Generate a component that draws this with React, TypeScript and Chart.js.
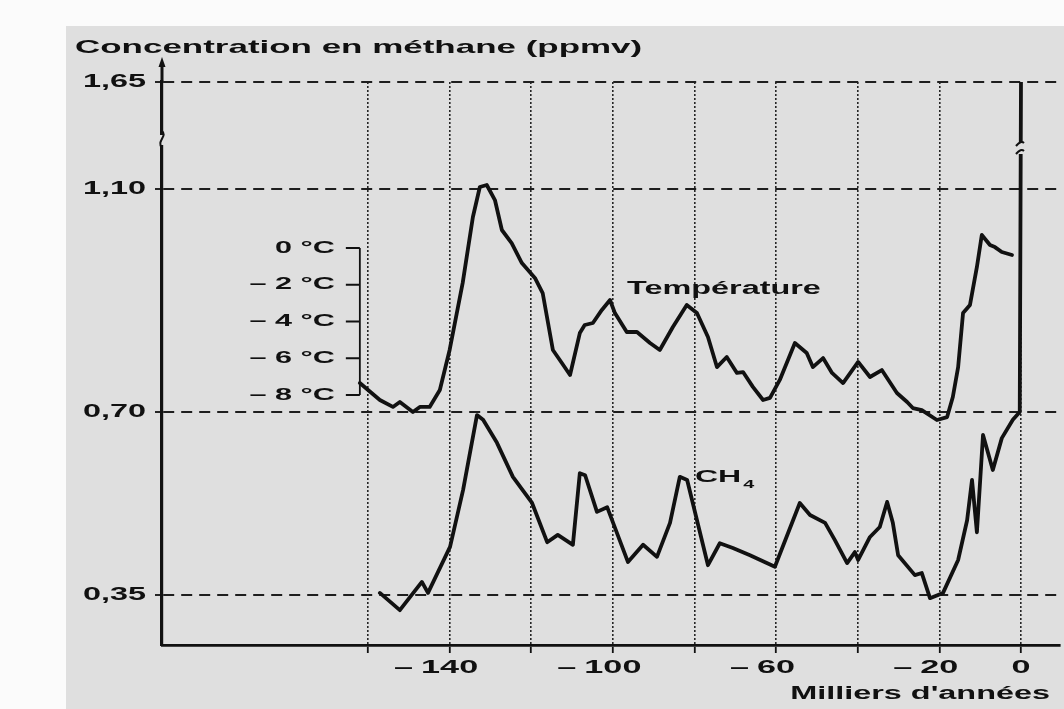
import React, { useEffect, useRef } from 'react';
import { Chart, registerables } from 'chart.js';

Chart.register(...registerables);

// ---------- DATA ----------
// Temperature (°C, relative) vs time (thousands of years)
const YEARS_T = [-162.0, -157.1, -153.9, -152.2, -149.0, -147.3, -144.9, -142.4, -140.0, -136.8, -134.3, -132.6, -130.9, -128.9, -127.2, -124.8, -122.3, -119.1, -117.2, -114.7, -112.5, -110.5, -108.1, -106.9, -104.9, -102.7, -100.7, -99.5, -96.6, -94.1, -90.9, -88.5, -85.3, -81.9, -79.4, -76.7, -74.5, -72.1, -69.6, -68.1, -65.7, -63.2, -61.5, -59.1, -55.4, -52.5, -51.0, -48.5, -46.3, -43.6, -39.9, -37.0, -34.1, -30.4, -27.9, -26.5, -24.3, -20.6, -18.1, -16.7, -15.4, -14.2, -12.5, -10.8, -9.6, -7.6, -6.4, -4.7, -2.2];
const TEMP = [-7.35, -8.27, -8.65, -8.38, -8.93, -8.65, -8.65, -7.73, -5.55, -1.90, 1.69, 3.32, 3.43, 2.61, 0.98, 0.27, -0.82, -1.63, -2.45, -5.55, -6.26, -6.91, -4.63, -4.19, -4.08, -3.37, -2.83, -3.54, -4.57, -4.57, -5.17, -5.55, -4.30, -3.10, -3.54, -4.84, -6.48, -5.93, -6.80, -6.75, -7.56, -8.27, -8.16, -7.18, -5.17, -5.71, -6.48, -5.99, -6.80, -7.35, -6.20, -7.02, -6.64, -7.89, -8.38, -8.71, -8.82, -9.36, -9.20, -8.11, -6.48, -3.54, -3.10, -1.03, 0.71, 0.16, 0.05, -0.22, -0.38];

// Methane concentration (ppmv) vs time (thousands of years)
const YEARS_CH4 = [-157.1, -152.2, -146.8, -145.3, -139.9, -136.7, -133.3, -131.8, -128.4, -124.5, -119.8, -116.1, -113.5, -109.8, -108.1, -106.8, -103.9, -101.4, -96.3, -92.6, -89.2, -86.0, -83.6, -81.8, -76.7, -73.8, -70.6, -66.4, -60.3, -54.2, -51.7, -48.0, -45.6, -42.6, -40.7, -39.9, -37.0, -34.6, -32.8, -31.4, -30.1, -26.0, -24.3, -22.3, -19.1, -15.4, -13.2, -12.0, -10.8, -9.3, -6.9, -4.7, -2.0, -0.3, 0];
const CH4 = [0.354, 0.321, 0.375, 0.354, 0.442, 0.551, 0.694, 0.685, 0.641, 0.576, 0.526, 0.451, 0.465, 0.446, 0.583, 0.579, 0.509, 0.518, 0.413, 0.446, 0.423, 0.488, 0.576, 0.570, 0.407, 0.449, 0.440, 0.426, 0.404, 0.526, 0.503, 0.488, 0.455, 0.411, 0.432, 0.417, 0.461, 0.480, 0.528, 0.488, 0.426, 0.388, 0.392, 0.344, 0.354, 0.417, 0.493, 0.570, 0.470, 0.656, 0.589, 0.650, 0.685, 0.700, 1.65];

// Ticks
const PPMV_TICKS = [0.35, 0.70, 1.10, 1.65];
const PPMV_LABELS = ['0,35', '0,70', '1,10', '1,65'];
const TEMP_TICKS = [0, -2, -4, -6, -8];
const TEMP_LABELS = ['0 °C', '– 2 °C', '– 4 °C', '– 6 °C', '– 8 °C'];
const X_TICKS = [-160, -140, -120, -100, -80, -60, -40, -20, 0];
const X_LABEL_VALUES = [-140, -100, -60, -20, 0];

const TITLE = 'Concentration en méthane (ppmv)';
const X_TITLE = "Milliers d'années";
const TEMP_NAME = 'Température';
const CH4_NAME = 'CH';
const CH4_SUB = '4';

// ---------- LAYOUT / STYLE ----------
const W = 1064;
const H = 709;
const INK = '#111111';
const PAPER = '#dfdfdf';
const SX = 1.8; // horizontal stretch of the scanned lettering
const FONT = "'Liberation Sans', Arial, sans-serif";

// broken ppmv axis: where each ppmv tick sits on the drawn axis
const AXIS_POS = [0.35, 0.70, 1.126, 1.331];
function toAxis(v: number): number {
  const t = PPMV_TICKS;
  const p = AXIS_POS;
  if (v <= t[1]) return p[0] + (v - t[0]) * (p[1] - p[0]) / (t[1] - t[0]);
  for (let i = 1; i < t.length - 1; i++) {
    if (v <= t[i + 1]) return p[i] + (v - t[i]) * (p[i + 1] - p[i]) / (t[i + 1] - t[i]);
  }
  const n = t.length - 1;
  return p[n] + (v - t[n]) * (p[n] - p[n - 1]) / (t[n] - t[n - 1]);
}

function stretchText(
  ctx: CanvasRenderingContext2D,
  text: string,
  x: number,
  y: number,
  align: 'left' | 'right' | 'center',
  size: number,
  sx: number = SX,
  weight: string = 'bold'
) {
  ctx.save();
  ctx.font = `${weight} ${size}px ${FONT}`;
  ctx.textBaseline = 'middle';
  ctx.textAlign = 'left';
  ctx.fillStyle = INK;
  const w = ctx.measureText(text).width * sx;
  const left = align === 'left' ? x : align === 'right' ? x - w : x - w / 2;
  ctx.translate(left, y);
  ctx.scale(sx, 1);
  ctx.fillText(text, 0, 0);
  ctx.restore();
  return w;
}

const paperPlugin = {
  id: 'paper',
  beforeDraw(chart: any) {
    const ctx = chart.ctx as CanvasRenderingContext2D;
    ctx.save();
    ctx.fillStyle = '#fbfbfb';
    ctx.fillRect(0, 0, W, H);
    ctx.fillStyle = PAPER;
    ctx.fillRect(66, 26, W - 66, H - 26);
    ctx.restore();
  },
};

const textPlugin = {
  id: 'scanText',
  afterDraw(chart: any) {
    const ctx = chart.ctx as CanvasRenderingContext2D;
    const xs = chart.scales.x;
    const ys = chart.scales.y;
    const yt = chart.scales.yT;
    const area = chart.chartArea;

    // title
    stretchText(ctx, TITLE, 75, 48, 'left', 19, 1.84);

    // ppmv tick labels
    PPMV_TICKS.forEach((v, i) => {
      const py = ys.getPixelForValue(toAxis(v));
      stretchText(ctx, PPMV_LABELS[i], area.left - 16, py, 'right', 18);
    });

    // time tick labels: number centred on tick, minus sign hanging left
    X_LABEL_VALUES.forEach((v) => {
      const px = xs.getPixelForValue(v);
      const num = String(Math.abs(v));
      const w = stretchText(ctx, num, px, 668, 'center', 19);
      if (v < 0) stretchText(ctx, '–', px - w / 2 - 8, 668, 'right', 19);
    });

    // x axis title
    stretchText(ctx, X_TITLE, 1050, 694, 'right', 18);

    // y axis arrow extension
    ctx.save();
    ctx.strokeStyle = INK;
    ctx.fillStyle = INK;
    ctx.lineWidth = 3;
    ctx.beginPath();
    ctx.moveTo(area.left, area.top + 1);
    ctx.lineTo(area.left, 64);
    ctx.stroke();
    ctx.beginPath();
    ctx.moveTo(area.left, 57);
    ctx.lineTo(area.left - 3.5, 67);
    ctx.lineTo(area.left + 3.5, 67);
    ctx.closePath();
    ctx.fill();

    // axis break mark on y axis
    ctx.fillStyle = PAPER;
    ctx.fillRect(area.left - 4, 135, 8, 10);
    ctx.lineWidth = 2;
    ctx.beginPath();
    ctx.moveTo(area.left, 131);
    ctx.bezierCurveTo(area.left + 6, 136, area.left - 6, 141, area.left, 148);
    ctx.stroke();

    // break on the modern CH4 spike
    const x0 = xs.getPixelForValue(0);
    ctx.fillStyle = PAPER;
    ctx.fillRect(x0 - 6, 143, 12, 11);
    ctx.lineWidth = 2;
    ctx.beginPath();
    ctx.moveTo(x0 - 5, 146);
    ctx.quadraticCurveTo(x0, 140, x0 + 3, 143);
    ctx.moveTo(x0 - 5, 154);
    ctx.quadraticCurveTo(x0, 148, x0 + 3, 151);
    ctx.stroke();

    // temperature bracket scale
    const bx = xs.getPixelForValue(-162);
    ctx.lineWidth = 1.8;
    ctx.strokeStyle = INK;
    ctx.beginPath();
    ctx.moveTo(bx, yt.getPixelForValue(TEMP_TICKS[0]));
    ctx.lineTo(bx, yt.getPixelForValue(TEMP_TICKS[TEMP_TICKS.length - 1]));
    TEMP_TICKS.forEach((t) => {
      const py = yt.getPixelForValue(t);
      ctx.moveTo(bx - 14, py);
      ctx.lineTo(bx, py);
    });
    ctx.stroke();
    ctx.restore();

    TEMP_TICKS.forEach((t, i) => {
      stretchText(ctx, TEMP_LABELS[i], bx - 25, yt.getPixelForValue(t), 'right', 17);
    });

    // series names
    stretchText(ctx, TEMP_NAME, 627, 289, 'left', 18);
    const cw = stretchText(ctx, CH4_NAME, 695, 478, 'left', 16, 2.0);
    stretchText(ctx, CH4_SUB, 695 + cw + 2, 485, 'left', 11, 1.8);
  },
};

export default function App() {
  const ref = useRef<HTMLCanvasElement | null>(null);

  useEffect(() => {
    if (!ref.current) return;
    const tempData = YEARS_T.map((x, i) => ({ x, y: TEMP[i] }));
    const ch4Data = YEARS_CH4.map((x, i) => ({ x, y: toAxis(CH4[i]) }));

    const chart = new Chart(ref.current, {
      type: 'line',
      data: {
        datasets: [
          {
            label: TEMP_NAME,
            data: tempData,
            yAxisID: 'yT',
            borderColor: INK,
            borderWidth: 3.8,
            pointRadius: 0,
            tension: 0,
            borderJoinStyle: 'round',
            borderCapStyle: 'round',
          },
          {
            label: 'CH4',
            data: ch4Data,
            yAxisID: 'y',
            borderColor: INK,
            borderWidth: 3.8,
            pointRadius: 0,
            tension: 0,
            borderJoinStyle: 'round',
            borderCapStyle: 'round',
          },
        ],
      },
      options: {
        responsive: false,
        animation: false,
        devicePixelRatio: 1,
        layout: { padding: { left: 0, top: 82, right: 4, bottom: 0 } },
        plugins: {
          legend: { display: false },
          tooltip: { enabled: false },
          title: { display: false },
        },
        scales: {
          x: {
            type: 'linear',
            min: -210.48,
            max: 9.56,
            afterBuildTicks: (s: any) => {
              s.ticks = X_TICKS.map((value) => ({ value }));
            },
            afterFit: (s: any) => {
              s.height = 64;
            },
            ticks: { display: false },
            grid: {
              color: '#262626',
              lineWidth: 1.6,
              drawTicks: true,
              tickLength: 8,
              tickColor: INK,
              tickWidth: 1.8,
              tickBorderDash: [],
            },
            border: { display: true, color: INK, width: 2.8, dash: [2, 2] },
          },
          y: {
            type: 'linear',
            position: 'left',
            min: 0.2544,
            max: 1.331,
            afterBuildTicks: (s: any) => {
              s.ticks = PPMV_TICKS.map((v) => ({ value: toAxis(v) }));
            },
            afterFit: (s: any) => {
              s.width = 162;
            },
            ticks: { display: false },
            grid: {
              color: '#1e1e1e',
              lineWidth: 2,
              drawTicks: true,
              tickLength: 7,
              tickColor: INK,
              tickWidth: 1.8,
              tickBorderDash: [],
            },
            border: { display: true, color: INK, width: 3.2, dash: [11, 7] },
          },
          yT: {
            type: 'linear',
            display: false,
            min: -21.605,
            max: 9.034,
          },
        },
      },
      plugins: [paperPlugin, textPlugin],
    } as any);

    return () => chart.destroy();
  }, []);

  return (
    <div style={{ position: 'absolute', left: 0, top: 0, width: W, height: H }}>
      <canvas ref={ref} width={W} height={H} style={{ display: 'block', width: W, height: H }} />
    </div>
  );
}
